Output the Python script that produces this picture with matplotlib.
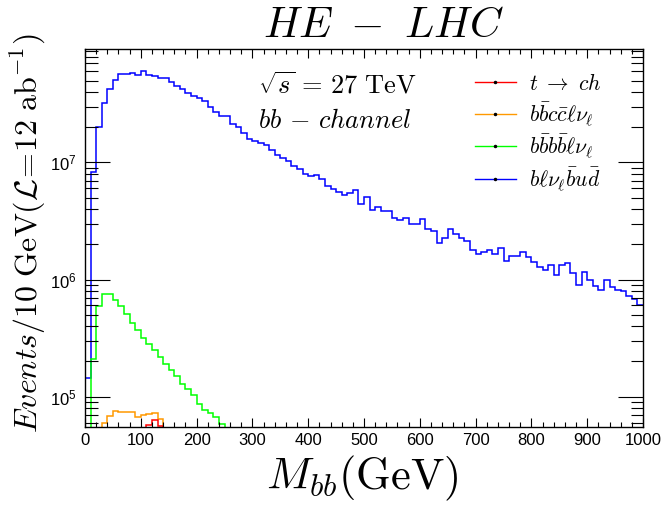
import numpy as np
import matplotlib
matplotlib.use('Agg')
import matplotlib.pyplot as plt
from matplotlib.lines import Line2D
from matplotlib.ticker import MultipleLocator, LogLocator, FuncFormatter, NullFormatter

plt.rcParams['mathtext.fontset'] = 'cm'
plt.rcParams['font.family'] = ['Liberation Sans', 'DejaVu Sans']

BIN_WIDTH = 10

# b l nu bbar u dbar (blue), bins 0..99
blue_start = 0
blue = [1.43e5, 8.3e6, 2.01e7, 3.19e7, 4.2e7, 5.1e7, 5.65e7, 5.65e7, 5.77e7, 5.57e7,
        6.0e7, 5.57e7, 5.47e7, 5.23e7, 5.23e7, 4.83e7, 4.49e7, 4.2e7, 3.91e7, 3.69e7,
        3.55e7, 3.32e7, 2.99e7, 2.69e7, 2.49e7, 2.49e7, 2.12e7, 1.99e7, 1.78e7, 1.6e7,
        1.53e7, 1.46e7, 1.42e7, 1.28e7, 1.15e7, 1.1e7, 1.03e7, 9.4e6, 8.7e6, 7.94e6,
        7.63e6, 7.74e6, 7.24e6, 6.27e6, 5.91e6, 5.57e6, 5.28e6, 5.5e6, 5.8e6, 4.4e6,
        5.08e6, 3.91e6, 4.12e6, 3.81e6, 3.81e6, 3.38e6, 3.21e6, 3.38e6, 2.95e6, 2.95e6,
        3.26e6, 2.69e6, 2.6e6, 2.07e6, 2.24e6, 2.69e6, 2.44e6, 2.27e6, 2.13e6, 1.78e6,
        1.64e6, 1.73e6, 1.77e6, 1.64e6, 1.85e6, 1.43e6, 1.6e6, 1.6e6, 1.73e6, 1.55e6,
        1.4e6, 1.27e6, 1.2e6, 1.32e6, 1.1e6, 1.32e6, 1.37e6, 1.13e6, 8.9e5, 1.17e6,
        9.9e5, 8.8e5, 8.1e5, 1.0e6, 8.55e5, 8.2e5, 7.95e5, 7.2e5, 6.8e5, 6.1e5]

# b bbar b bbar l nu (green), bins 0..25
green_start = 0
green = [3e4, 2.11e5, 5.94e5, 7.59e5, 7.59e5, 6.74e5, 5.92e5, 5.12e5, 4.26e5, 3.69e5,
         3.19e5, 2.8e5, 2.52e5, 2.18e5, 1.91e5, 1.7e5, 1.49e5, 1.29e5, 1.17e5, 1.03e5,
         8.6e4, 7.74e4, 7.24e4, 6.7e4, 5.8e4, 3e4]

# b bbar c cbar l nu (orange), bins 2..14
orange_start = 2
orange = [3e4, 6.0e4, 6.8e4, 7.5e4, 7.4e4, 7.4e4, 7.4e4, 6.75e4, 6.92e4, 7.1e4,
          7.3e4, 6.5e4, 3e4]

# t -> ch (red), bins 10..14
red_start = 10
red = [3e4, 5.77e4, 6.26e4, 5.6e4, 3e4]

labels = [r'$t\ \rightarrow\ ch$', r'$b\bar{b}c\bar{c}\ell\nu_{\ell}$',
          r'$b\bar{b}b\bar{b}\ell\nu_{\ell}$', r'$b\ell\nu_{\ell}\bar{b}u\bar{d}$']
colors = ['#ff0000', '#ff9900', '#00ff00', '#0000ff']

W, H = 666, 509
fig = plt.figure(figsize=(W/100, H/100), dpi=100)
ax = fig.add_axes([85/W, 1-427/H, (643-85)/W, (427-49)/H])

def edges(start, vals):
    return BIN_WIDTH*np.arange(start, start+len(vals)+1)

lw = 1.1
ax.stairs(blue, edges(blue_start, blue), baseline=None, color=colors[3], lw=lw)
ax.stairs(green, edges(green_start, green), baseline=None, color=colors[2], lw=lw)
ax.stairs(orange, edges(orange_start, orange), baseline=None, color=colors[1], lw=lw)
ax.stairs(red, edges(red_start, red), baseline=None, color=colors[0], lw=lw)

ax.set_yscale('log')
ax.set_xlim(0, 1000)
ax.set_ylim(5.5e4, 9.3e7)
ax.xaxis.set_major_locator(MultipleLocator(100))
ax.xaxis.set_minor_locator(MultipleLocator(20))
ax.yaxis.set_major_locator(LogLocator(10, numticks=20))
ax.yaxis.set_minor_locator(LogLocator(10, subs=np.arange(2, 10), numticks=20))
ax.yaxis.set_minor_formatter(NullFormatter())
ax.yaxis.set_major_formatter(FuncFormatter(lambda v, p: r'$\mathregular{10^{%d}}$' % round(np.log10(v))))
ax.tick_params(axis='both', which='both', direction='in', top=True, right=True,
               width=0.8, labelsize=12)
ax.tick_params(axis='y', which='major', length=18, pad=6)
ax.tick_params(axis='y', which='minor', length=9)
ax.tick_params(axis='x', which='major', length=6.5, pad=4)
ax.tick_params(axis='x', which='minor', length=3.6)
for s in ax.spines.values():
    s.set_linewidth(1.0)

fig.text(384/W, 1-26/H, r'$HE\ -\ LHC$', ha='center', va='center', fontsize=31)
fig.text(258/W, 1-93/H, r'$\sqrt{s}\,=\,27\ \mathrm{TeV}$', fontsize=19, va='baseline')
fig.text(258/W, 1-128/H, r'$bb\,-\,channel$', fontsize=19, va='baseline')
fig.text(362/W, 1-478/H, r'$M_{bb}(\mathrm{GeV})$', ha='center', va='center', fontsize=32)
fig.text(28/W, 1-233/H, r'$Events/10\ \mathrm{GeV}(\mathcal{L}\!=\!12\ \mathrm{ab}^{-1})$',
         rotation=90, ha='center', va='center', fontsize=23)

handles = [Line2D([], [], color=c, lw=1.0, marker='o', markersize=1.5, mfc='k', mec='k')
           for c in colors]
ax.legend(handles, labels, loc='upper left', bbox_to_anchor=(475/W, 1-74/H),
          bbox_transform=fig.transFigure, frameon=False, fontsize=15.5,
          handlelength=1.9, handletextpad=0.6, labelspacing=0.22,
          borderpad=0, borderaxespad=0)

fig.savefig('out.png', dpi=100)
